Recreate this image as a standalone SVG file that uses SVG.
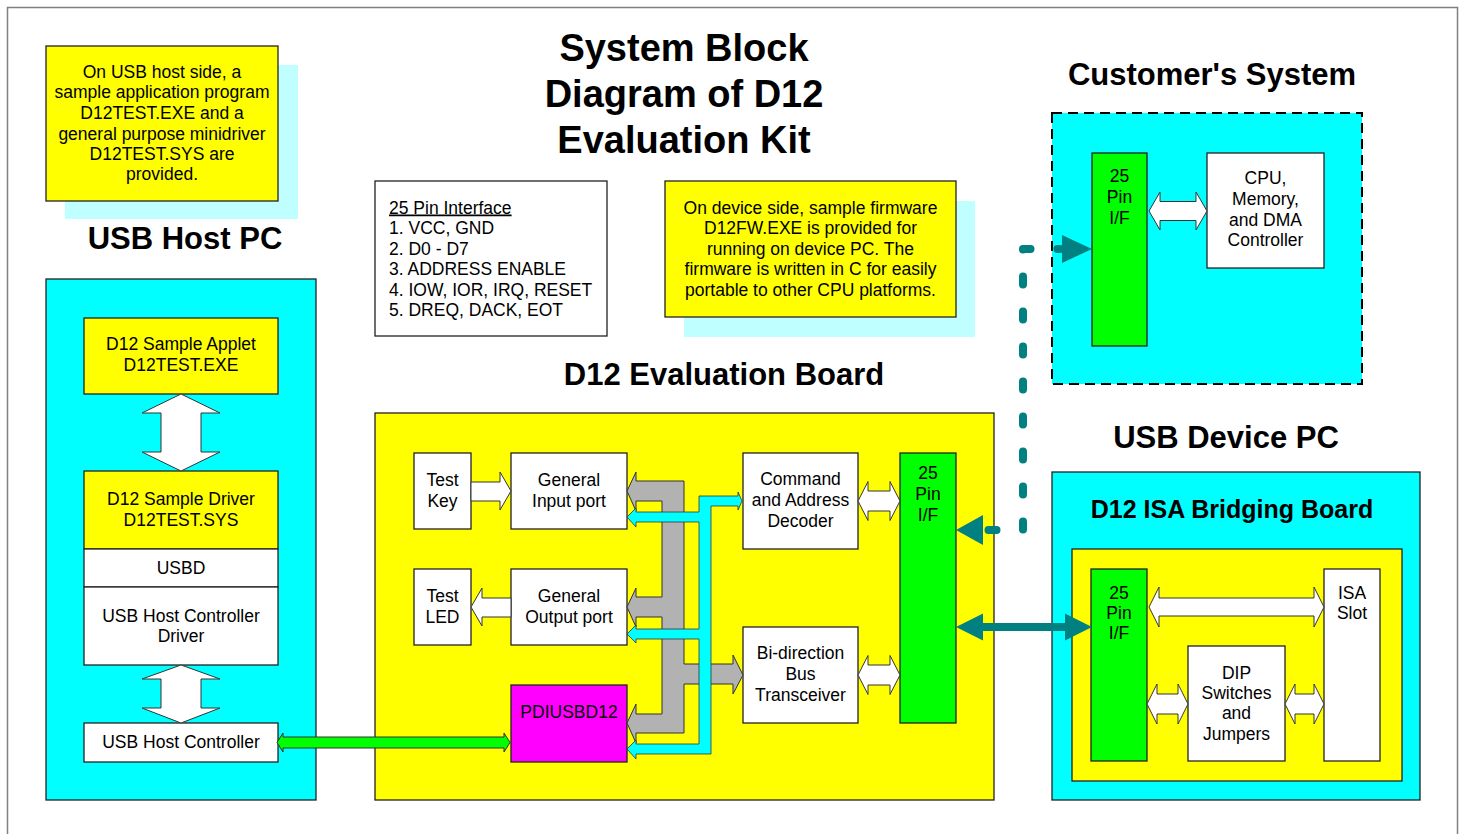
<svg xmlns="http://www.w3.org/2000/svg" width="1463" height="834" viewBox="0 0 1463 834">
<defs>
<style>
text{font-family:"Liberation Sans",Arial,sans-serif;fill:#000}
.t{font-size:17.5px;text-anchor:middle}
.tl{font-size:17.5px;text-anchor:start}
.h{font-weight:bold;text-anchor:middle}
.box{stroke:#222;stroke-width:1.3}
.w{fill:#fff}
.y{fill:#ffff00}
.c{fill:#00ffff}
.g{fill:#00ff00}
.m{fill:#ff00ff}
.sh{fill:#c0ffff}
.wa{fill:#fff;stroke:#333;stroke-width:1}
.teal{fill:#008080}
</style>
</defs>
<rect x="7.5" y="7.5" width="1450" height="850" fill="#fff" stroke="#808080" stroke-width="1.5"/>

<g id="title">
<text class="h" x="684" y="61" font-size="38">System Block</text>
<text class="h" x="684" y="107" font-size="38">Diagram of D12</text>
<text class="h" x="684" y="153" font-size="38">Evaluation Kit</text>
</g>

<g id="note-host">
<rect class="sh" x="65" y="65" width="233" height="154"/>
<rect class="y box" x="46" y="46" width="232" height="155"/>
<text class="t" x="162" y="77.5">On USB host side, a</text>
<text class="t" x="162" y="98">sample application program</text>
<text class="t" x="162" y="118.5">D12TEST.EXE and a</text>
<text class="t" x="162" y="139.5">general purpose minidriver</text>
<text class="t" x="162" y="159.5">D12TEST.SYS are</text>
<text class="t" x="162" y="180">provided.</text>
</g>

<g id="pin-interface">
<rect class="w box" x="375" y="181" width="232" height="155"/>
<text class="tl" x="389" y="213.5" text-decoration="underline">25 Pin Interface</text>
<text class="tl" x="389" y="234">1. VCC, GND</text>
<text class="tl" x="389" y="254.5">2. D0 - D7</text>
<text class="tl" x="389" y="275">3. ADDRESS ENABLE</text>
<text class="tl" x="389" y="295.5">4. IOW, IOR, IRQ, RESET</text>
<text class="tl" x="389" y="316">5. DREQ, DACK, EOT</text>
</g>

<g id="note-device">
<rect class="sh" x="684" y="201" width="291" height="136"/>
<rect class="y box" x="665" y="181" width="291" height="136"/>
<text class="t" x="810.5" y="213.5">On device side, sample firmware</text>
<text class="t" x="810.5" y="234">D12FW.EXE is provided for</text>
<text class="t" x="810.5" y="255">running on device PC. The</text>
<text class="t" x="810.5" y="275">firmware is written in C for easily</text>
<text class="t" x="810.5" y="296">portable to other CPU platforms.</text>
</g>

<g id="usb-host-pc">
<text class="h" x="185" y="249" font-size="31">USB Host PC</text>
<rect class="c box" x="46" y="279" width="270" height="521"/>
</g>
<g id="applet">
<rect class="y box" x="84" y="318" width="194" height="76"/>
<text class="t" x="181" y="350">D12 Sample Applet</text>
<text class="t" x="181" y="371">D12TEST.EXE</text>
</g>
<g id="driver">
<rect class="y box" x="84" y="471" width="194" height="78"/>
<text class="t" x="181" y="505">D12 Sample Driver</text>
<text class="t" x="181" y="526">D12TEST.SYS</text>
</g>
<g id="usbd">
<rect class="w box" x="84" y="549" width="194" height="38"/>
<text class="t" x="181" y="574">USBD</text>
</g>
<g id="hcd">
<rect class="w box" x="84" y="587" width="194" height="78"/>
<text class="t" x="181" y="622">USB Host Controller</text>
<text class="t" x="181" y="642">Driver</text>
</g>
<g id="hc">
<rect class="w box" x="84" y="723" width="194" height="39"/>
<text class="t" x="181" y="748">USB Host Controller</text>
</g>

<g id="eval-board">
<text class="h" x="724" y="385" font-size="31">D12 Evaluation Board</text>
<rect class="y box" x="375" y="413" width="619" height="387"/>
</g>
<g id="test-key">
<rect class="w box" x="414" y="453" width="57" height="76"/>
<text class="t" x="442.5" y="486">Test</text>
<text class="t" x="442.5" y="507">Key</text>
</g>
<g id="input-port">
<rect class="w box" x="511" y="453" width="116" height="76"/>
<text class="t" x="569" y="486">General</text>
<text class="t" x="569" y="507">Input port</text>
</g>
<g id="test-led">
<rect class="w box" x="414" y="569" width="57" height="76"/>
<text class="t" x="442.5" y="602">Test</text>
<text class="t" x="442.5" y="623">LED</text>
</g>
<g id="output-port">
<rect class="w box" x="511" y="569" width="116" height="76"/>
<text class="t" x="569" y="602">General</text>
<text class="t" x="569" y="623">Output port</text>
</g>
<g id="pdiusbd12">
<rect class="m box" x="511" y="685" width="116" height="77"/>
<text class="t" x="569" y="718">PDIUSBD12</text>
</g>
<g id="decoder">
<rect class="w box" x="743" y="453" width="115" height="96"/>
<text class="t" x="800.5" y="485">Command</text>
<text class="t" x="800.5" y="506">and Address</text>
<text class="t" x="800.5" y="527">Decoder</text>
</g>
<g id="transceiver">
<rect class="w box" x="743" y="627" width="115" height="96"/>
<text class="t" x="800.5" y="659">Bi-direction</text>
<text class="t" x="800.5" y="680">Bus</text>
<text class="t" x="800.5" y="701">Transceiver</text>
</g>
<g id="eval-pin">
<rect class="g box" x="900" y="453" width="56" height="270"/>
<text class="t" x="928" y="479">25</text>
<text class="t" x="928" y="500">Pin</text>
<text class="t" x="928" y="521">I/F</text>
</g>

<g id="customer-system">
<text class="h" x="1212" y="85" font-size="31">Customer's System</text>
<rect class="c" x="1052" y="113" width="310" height="271" stroke="#000" stroke-width="2" stroke-dasharray="10 6"/>
</g>
<g id="customer-pin">
<rect class="g box" x="1092" y="153" width="55" height="193"/>
<text class="t" x="1119.5" y="182">25</text>
<text class="t" x="1119.5" y="203">Pin</text>
<text class="t" x="1119.5" y="224">I/F</text>
</g>
<g id="cpu">
<rect class="w box" x="1207" y="153" width="117" height="115"/>
<text class="t" x="1265.5" y="184">CPU,</text>
<text class="t" x="1265.5" y="205">Memory,</text>
<text class="t" x="1265.5" y="226">and DMA</text>
<text class="t" x="1265.5" y="246">Controller</text>
</g>

<g id="usb-device-pc">
<text class="h" x="1226" y="448" font-size="31">USB Device PC</text>
<rect class="c box" x="1052" y="472" width="368" height="328"/>
<text class="h" x="1232" y="518" font-size="25">D12 ISA Bridging Board</text>
<rect class="y box" x="1072" y="549" width="330" height="232"/>
</g>
<g id="bridge-pin">
<rect class="g box" x="1091" y="569" width="56" height="192"/>
<text class="t" x="1119" y="599">25</text>
<text class="t" x="1119" y="619">Pin</text>
<text class="t" x="1119" y="639">I/F</text>
</g>
<g id="isa-slot">
<rect class="w box" x="1324" y="569" width="56" height="192"/>
<text class="t" x="1352" y="599">ISA</text>
<text class="t" x="1352" y="619">Slot</text>
</g>
<g id="dip">
<rect class="w box" x="1188" y="646" width="97" height="115"/>
<text class="t" x="1236.5" y="679">DIP</text>
<text class="t" x="1236.5" y="699">Switches</text>
<text class="t" x="1236.5" y="719">and</text>
<text class="t" x="1236.5" y="740">Jumpers</text>
</g>

<g id="connectors">
<path class="wa" d="M181,394 L220,413 L201,413 L201,452 L220,452 L181,471 L142,452 L161,452 L161,413 L142,413 Z"/>
<path class="wa" d="M181,665 L220,679 L201,679 L201,708 L220,708 L181,723 L142,708 L161,708 L161,679 L142,679 Z"/>
<path d="M277,742.5 L283,733 L283,737 L504,737 L504,733 L510,742.5 L504,752 L504,748 L283,748 L283,752 Z" fill="#00ff00" stroke="#333" stroke-width="1"/>
<path class="wa" d="M471,482 L500,482 L500,472 L511,491 L500,510 L500,501 L471,501 Z"/>
<path class="wa" d="M511,598 L482,598 L482,588 L471,607 L482,626 L482,617 L511,617 Z"/>
<path d="M627,491 L636,472 L636,481 L684,481 L684,664 L733,664 L733,655 L743,675 L733,694 L733,684 L684,684 L684,733 L636,733 L636,743 L627,723 L636,704 L636,714 L662,714 L662,617 L636,617 L636,627 L627,607 L636,588 L636,597 L662,597 L662,501 L636,501 L636,511 Z" fill="#b2b2b2" stroke="#333" stroke-width="1"/>
<path d="M699,496 L738,496 L738,492 L742,501 L738,510 L738,506 L711,506 L711,754 L636,754 L636,759 L627,749 L636,740 L636,744 L699,744 L699,639 L636,639 L636,643 L627,634 L636,625 L636,629 L699,629 L699,522 L636,522 L636,527 L627,517 L636,508 L636,512 L699,512 Z" fill="#00ffff" stroke="#333" stroke-width="0.8"/>
<path class="wa" d="M858,501 L868,481.5 L868,491 L890,491 L890,481.5 L900,501 L890,520.5 L890,511 L868,511 L868,520.5 Z"/>
<path class="wa" d="M858,675 L868,655.5 L868,665 L890,665 L890,655.5 L900,675 L890,694.5 L890,685 L868,685 L868,694.5 Z"/>
<path class="wa" d="M1149,211 L1160,192 L1160,201.5 L1196,201.5 L1196,192 L1207,211 L1196,230 L1196,220.5 L1160,220.5 L1160,230 Z"/>
<path class="wa" d="M1149,607 L1159,587 L1159,598 L1314,598 L1314,587 L1324,607 L1314,627 L1314,616 L1159,616 L1159,627 Z"/>
<path class="wa" d="M1147,704 L1157,684 L1157,694 L1178,694 L1178,684 L1188,704 L1178,724 L1178,714 L1157,714 L1157,724 Z"/>
<path class="wa" d="M1285,704 L1295,684 L1295,694 L1314,694 L1314,684 L1324,704 L1314,724 L1314,714 L1295,714 L1295,724 Z"/>
<path class="teal" d="M956,627 L983,613.5 L983,623 L1065,623 L1065,613.5 L1092,627 L1065,640.5 L1065,631 L983,631 L983,640.5 Z"/>
<path d="M1060,249 H1023 V530 H985" fill="none" stroke="#008080" stroke-width="8" stroke-linecap="round" stroke-linejoin="round" stroke-dasharray="8 27" stroke-dashoffset="5.5"/>
<path class="teal" d="M1062,235 L1092,249 L1062,263 Z"/>
<path class="teal" d="M983,515 L956,530 L983,545 Z"/>
</g>
</svg>
